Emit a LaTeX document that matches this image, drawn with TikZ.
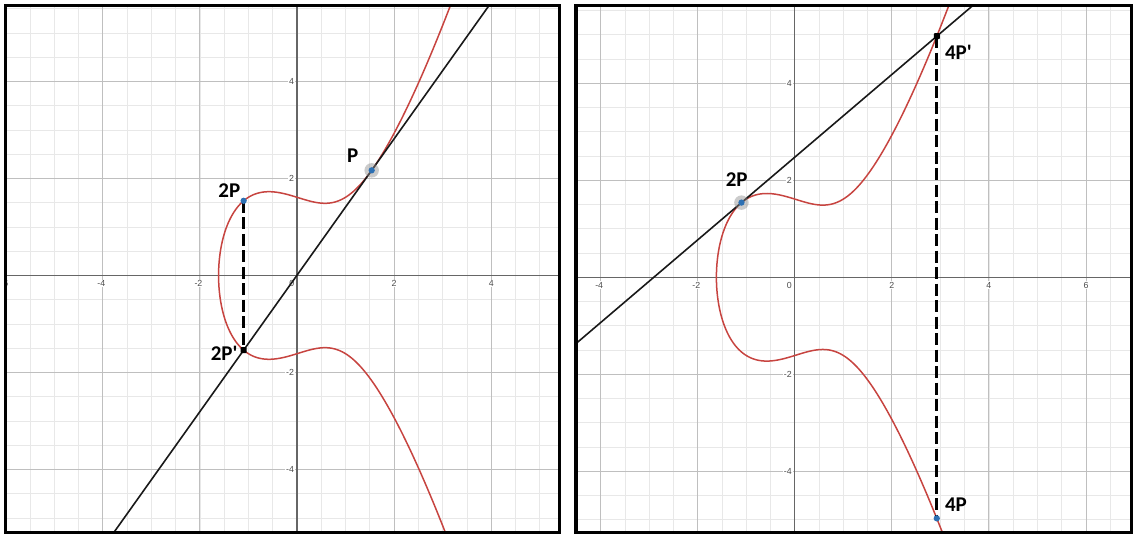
\documentclass[tikz,border=0pt]{standalone}
\usepackage{fontspec}
\newfontfamily\lblfont{Carlito}
\newfontfamily\tickfont{Liberation Sans}
\definecolor{dred}{HTML}{C74440}
\definecolor{dblue}{HTML}{2D70B3}
\tikzset{
  declare function={ecx(\t)=-1.6154+\t*\t; ecy(\t)=\t*sqrt(ecx(\t)*ecx(\t)-1.6154*ecx(\t)+1.60952);},
  minorgrid/.style={draw=black!9, line width=0.8pt},
  majorgrid/.style={draw=black!25, line width=0.9pt},
  axisline/.style={draw=black!60, line width=1.3pt},
  ecurve/.style={draw=dred, line width=1.5pt},
  tanline/.style={draw=black!90, line width=1.6pt},
  vdash/.style={draw=black, line width=2.6pt, dash pattern=on 12pt off 4.5pt},
  panelframe/.style={draw=black, line width=3.4pt},
  ticklbl/.style={font=\tickfont\fontsize{8.8}{9}\selectfont, text=black!70, fill=white, inner sep=0.8pt},
  ptlabel/.style={font=\lblfont\bfseries\fontsize{21}{22}\selectfont, inner sep=0pt},
  halo/.style={circle, fill=black!45, fill opacity=0.45, inner sep=0pt, minimum size=14.5pt},
  bluedot/.style={circle, fill=dblue, inner sep=0pt, minimum size=6.3pt},
  blackdot/.style={rectangle, rounded corners=0.8pt, fill=black, inner sep=0pt, minimum size=6pt},
}
\begin{document}
\begin{tikzpicture}
\useasboundingbox (0,0) rectangle (1134pt,534pt);
% ---------------- left panel ----------------
\begin{scope}[shift={(297pt,258.5pt)}, x=48.55pt, y=48.5pt]
  \begin{scope}
    \clip (-6.004,-5.309) rectangle (5.407,5.571);
    \foreach \i in {-13,...,11} \draw[minorgrid] (\i/2,-6) -- (\i/2,6);
    \foreach \j in {-11,...,11} \draw[minorgrid] (-7,\j/2) -- (6,\j/2);
    \foreach \i in {-6,-4,-2,2,4} \draw[majorgrid] (\i,-6) -- (\i,6);
    \foreach \j in {-4,-2,2,4} \draw[majorgrid] (-7,\j) -- (6,\j);
    \draw[axisline] (-7,0) -- (6,0);
    \draw[axisline] (0,-6) -- (0,6);
    \foreach \x/\t in {-6/6,-4/4,-2/2} \node[ticklbl, yshift=-8pt] (Lx\x) at (\x,0) {\llap{-}\t};
    \foreach \x in {2,4} \node[ticklbl, yshift=-8pt] (Lx\x) at (\x,0) {\x};
    \foreach \y in {-4,-2,2,4} \node[ticklbl, anchor=east, xshift=-2pt] (Ly\y) at (0,\y) {\y};
    \node[ticklbl, xshift=-5.3pt, yshift=-7.8pt] (L0) at (0,0) {0};
    \draw[ecurve] plot[domain=-2.2:2.2, samples=300, smooth, variable=\t] ({ecx(\t)},{ecy(\t)});
    \coordinate (P) at (1.538,2.168);
    \coordinate (P2) at (-1.0993,1.5398);
    \coordinate (P2n) at (-1.0993,-1.5398);
    \coordinate (LA) at (-4.2,-5.8995);
    \coordinate (LB) at (4.2,5.9107);
    \draw[tanline] (LA) -- (LB);
    \draw[vdash] (P2) -- (P2n);
    \node[halo] (Ph) at (P) {};
    \node[bluedot] (Pd) at (P) {};
    \node[bluedot] (P2d) at (P2) {};
    \node[blackdot] (P2nd) at (P2n) {};
    \node[ptlabel] (lP) at (1.15,2.48) {P};
    \node[ptlabel] (l2P) at (-1.395,1.748) {2P};
    \node[ptlabel] (l2Pn) at (-1.5,-1.61) {2P\textquotesingle};
  \end{scope}
  \draw[panelframe] (-6.004,-5.309) rectangle (5.407,5.571);
\end{scope}
% ---------------- right panel ----------------
\begin{scope}[shift={(794.8pt,256.7pt)}, x=48.53pt, y=48.5pt]
  \begin{scope}
    \clip (-4.509,-5.262) rectangle (6.938,5.600);
    \foreach \i in {-9,...,13} \draw[minorgrid] (\i/2,-6) -- (\i/2,6);
    \foreach \j in {-11,...,11} \draw[minorgrid] (-5,\j/2) -- (7,\j/2);
    \foreach \i in {-4,-2,2,4,6} \draw[majorgrid] (\i,-6) -- (\i,6);
    \foreach \j in {-4,-2,2,4} \draw[majorgrid] (-5,\j) -- (7,\j);
    \draw[axisline] (-5,0) -- (7,0);
    \draw[axisline] (0,-6) -- (0,6);
    \foreach \x/\t in {-4/4,-2/2} \node[ticklbl, yshift=-8pt] (Rx\x) at (\x,0) {\llap{-}\t};
    \foreach \x in {2,4,6} \node[ticklbl, yshift=-8pt] (Rx\x) at (\x,0) {\x};
    \foreach \y in {-4,-2,2,4} \node[ticklbl, anchor=east, xshift=-2pt] (Ry\y) at (0,\y) {\y};
    \node[ticklbl, xshift=-5.5pt, yshift=-7.8pt] (R0) at (0,0) {0};
    \draw[ecurve] plot[domain=-2.2:2.2, samples=300, smooth, variable=\t] ({ecx(\t)},{ecy(\t)});
    \coordinate (Q2) at (-1.0993,1.5398);
    \coordinate (Q4n) at (2.9252,4.9703);
    \coordinate (Q4) at (2.9252,-4.9703);
    \coordinate (RA) at (-5,-1.7852);
    \coordinate (RB) at (4.5,6.3126);
    \draw[tanline] (RA) -- (RB);
    \draw[vdash] (Q4n) -- (Q4);
    \node[halo] (Q2h) at (Q2) {};
    \node[bluedot] (Q2d) at (Q2) {};
    \node[blackdot] (Q4nd) at (Q4n) {};
    \node[bluedot] (Q4d) at (Q4) {};
    \node[ptlabel] (r2P) at (-1.197,2.02) {2P};
    \node[ptlabel] (r4Pn) at (3.37,4.64) {4P\textquotesingle};
    \node[ptlabel] (r4P) at (3.32,-4.695) {4P};
  \end{scope}
  \draw[panelframe] (-4.509,-5.262) rectangle (6.938,5.600);
\end{scope}
\end{tikzpicture}
\end{document}
